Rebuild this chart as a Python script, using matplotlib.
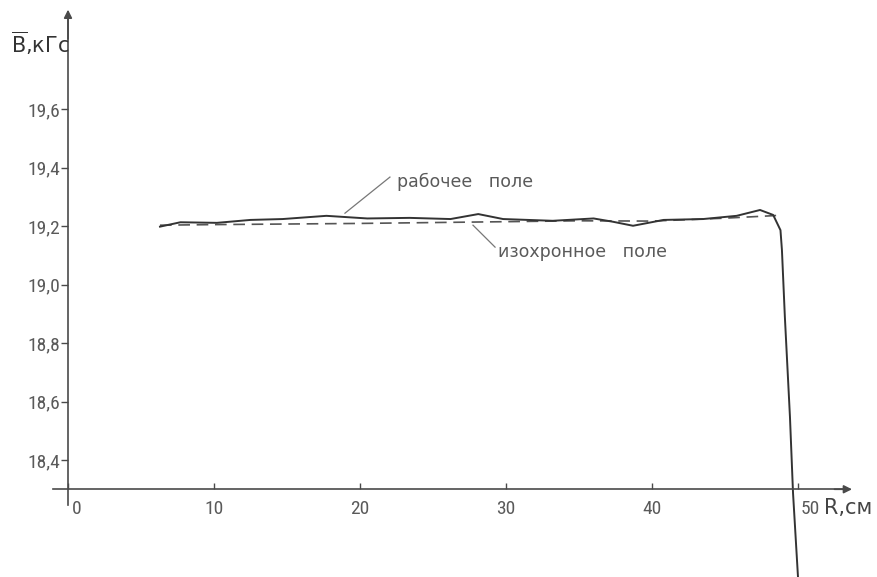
import matplotlib
matplotlib.use("Agg")
import matplotlib.pyplot as plt
from matplotlib.transforms import ScaledTranslation
from matplotlib import font_manager

names = {f.name for f in font_manager.fontManager.ttflist}
if 'Roboto Condensed' in names:
    tick_family = ['Roboto Condensed', 'DejaVu Sans']
    tick_fs = 14
else:
    tick_family = ['DejaVu Sans']
    tick_fs = 12.5
plt.rcParams['font.family'] = tick_family
plt.rcParams['mathtext.fontset'] = 'dejavusans'

# ---- data ----
R_work = [6.3, 7.7, 10.2, 12.5, 14.7, 17.7, 20.5, 23.4, 26.2, 28.1, 29.8, 33.2,
          36.0, 37.3, 38.7, 40.8, 43.5, 45.8, 47.4, 48.3, 48.8, 48.9, 49.1,
          49.45, 49.66, 50.0, 50.1]
B_work = [19.198, 19.213, 19.211, 19.221, 19.224, 19.235, 19.226, 19.228, 19.224,
          19.241, 19.224, 19.218, 19.226, 19.215, 19.201, 19.221, 19.224, 19.235,
          19.255, 19.238, 19.186, 19.118, 18.89, 18.547, 18.287, 18.0, 17.95]

R_iso = [6.3, 10, 15, 20, 25, 30, 35, 40, 45, 48.5]
B_iso = [19.203, 19.205, 19.207, 19.209, 19.212, 19.215, 19.218, 19.217, 19.227, 19.236]

x_ticks = [0, 10, 20, 30, 40, 50]
x_labels = ['0', '10', '20', '30', '40', '50']
y_ticks = [18.4, 18.6, 18.8, 19.0, 19.2, 19.4, 19.6]
y_labels = ['18,4', '18,6', '18,8', '19,0', '19,2', '19,4', '19,6']

label_work = 'рабочее   поле'
label_iso = 'изохронное   поле'
y_title = r'$\overline{\mathsf{B}}$,кГс'
x_title = 'R,см'

# ---- figure ----
fig = plt.figure(figsize=(8.78, 5.77), dpi=100)
ax = fig.add_axes([0, 0, 1, 1])
ax.set_xlim(-4.658, 55.48)
ax.set_ylim(18.0, 19.973)
ax.patch.set_alpha(0)

axis_col = '#4a4a4a'
text_col = '#5a5a5a'

for s in ['top', 'right']:
    ax.spines[s].set_visible(False)
ax.spines['left'].set_position(('data', 0))
ax.spines['bottom'].set_position(('data', 18.3))
ax.spines['left'].set_bounds(18.245, 19.92)
ax.spines['bottom'].set_bounds(-1.0, 53.3)
for s in ['left', 'bottom']:
    ax.spines[s].set_color(axis_col)
    ax.spines[s].set_linewidth(1.2)

# arrow heads
ax.annotate('', xy=(0, 19.94), xytext=(0, 19.84),
            arrowprops=dict(arrowstyle='-|>', color=axis_col, lw=1.2,
                            mutation_scale=12, shrinkA=0, shrinkB=0))
ax.annotate('', xy=(53.7, 18.3), xytext=(52.5, 18.3),
            arrowprops=dict(arrowstyle='-|>', color=axis_col, lw=1.2,
                            mutation_scale=12, shrinkA=0, shrinkB=0))

ax.set_yticks(y_ticks)
ax.set_yticklabels(y_labels)
ax.tick_params(axis='y', direction='out', length=5, width=1, color=axis_col,
               pad=0.5, labelsize=tick_fs, labelcolor=text_col)
ax.set_xticks(x_ticks)
ax.set_xticklabels(x_labels)
ax.tick_params(axis='x', direction='in', length=4, width=1, color=axis_col,
               pad=7.5, labelsize=tick_fs, labelcolor=text_col)
for lab in ax.get_xticklabels():
    if lab.get_text() in ('0', '50'):
        lab.set_horizontalalignment('left')
        off = 4 if lab.get_text() == '0' else 3
        lab.set_transform(lab.get_transform() +
                          ScaledTranslation(off / 100, 0, fig.dpi_scale_trans))

# curves
ax.plot(R_iso, B_iso, color='#555555', lw=1.2, dashes=(7, 4))
ax.plot(R_work, B_work, color='#333333', lw=1.4, clip_on=True)

# annotations
ax.plot([22.05, 18.97], [19.3675, 19.244], color='#777777', lw=0.9)
ax.text(22.5, 19.350, label_work, fontsize=12.5, color=text_col, va='center', ha='left',
        family=['DejaVu Sans'])
ax.plot([27.74, 29.25], [19.203, 19.128], color='#777777', lw=0.9)
ax.text(29.45, 19.111, label_iso, fontsize=12.5, color=text_col, va='center', ha='left',
        family=['DejaVu Sans'])

# axis titles
ax.text(-3.9, 19.826, y_title, fontsize=15, color='#333333', va='center', ha='left',
        family=['DejaVu Sans'])
ax.text(51.75, 18.236, x_title, fontsize=15, color='#444444', va='center', ha='left',
        family=['DejaVu Sans'])

fig.savefig('out.png', dpi=100)
